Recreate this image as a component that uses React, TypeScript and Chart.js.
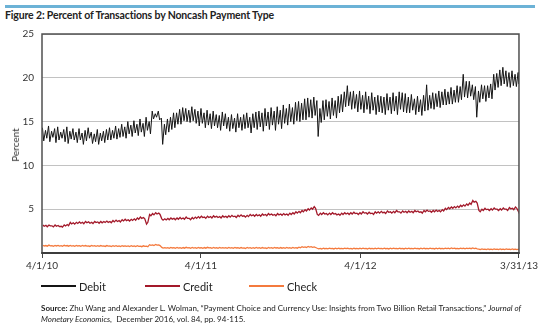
import React, { useEffect, useRef } from "react";
import { Chart, registerables } from "chart.js";

Chart.register(...registerables);

// x-axis tick dates (days since 4/1/10) and labels
const xTickDays = [0, 365, 731, 1095];
const xTickLabels = ["4/1/10", "4/1/11", "4/1/12", "3/31/13"];

// Debit: weekly highs and weekly lows (percent), week 0 = week of 4/1/10
const debitWeeklyHigh = [
  14.3, 14.0, 14.5, 13.9, 14.2, 14.4, 13.8, 14.1, 14.4, 13.9,
  14.2, 13.8, 14.2, 13.7, 14.0, 14.3, 13.8, 13.6, 14.1, 13.7,
  13.9, 14.1, 14.3, 14.0, 14.5, 14.2, 14.7, 14.4, 15.0, 14.6,
  15.1, 14.7, 15.3, 14.8, 15.5, 15.0, 16.2, 15.9, 16.2, 15.4,
  14.7, 15.3, 15.5, 16.0, 16.0, 16.4, 16.6, 16.5, 16.3, 16.7,
  16.4, 16.2, 16.5, 16.0, 16.3, 15.9, 16.2, 15.8, 15.7, 16.1,
  15.9, 15.5, 15.8, 15.4, 15.9, 15.5, 15.8, 16.0, 15.5, 15.9,
  16.1, 16.2, 16.0, 16.5, 16.1, 16.6, 16.2, 16.7, 16.3, 16.9,
  16.5, 17.0, 16.6, 17.2, 17.3, 17.1, 17.6, 17.7, 17.5, 17.8,
  17.4, 16.5, 17.4, 17.5, 17.3, 17.7, 17.4, 17.9, 18.1, 18.4,
  19.1, 18.4, 18.5, 18.1, 18.5, 18.0, 18.4, 17.9, 18.3, 17.8,
  18.0, 17.9, 17.8, 18.2, 17.8, 18.3, 17.9, 18.4, 18.3, 18.2,
  17.8, 18.1, 17.6, 17.9, 17.5, 18.0, 19.2, 18.0, 18.3, 18.2,
  18.5, 18.4, 18.7, 18.4, 18.9, 18.6, 19.1, 19.0, 20.4, 19.6,
  19.6, 19.2, 19.0, 18.5, 19.2, 19.1, 19.1, 19.3, 20.4, 20.5,
  20.9, 21.2, 20.8, 20.6, 20.8, 20.4, 20.6,
];
const debitWeeklyLow = [
  12.8, 13.1, 12.7, 13.2, 12.6, 12.9, 13.1, 12.7, 12.5, 13.0,
  12.9, 12.6, 12.9, 12.4, 12.8, 13.1, 12.5, 12.7, 12.4, 12.8,
  12.6, 12.9, 12.9, 13.1, 13.0, 13.2, 13.3, 13.1, 13.6, 13.3,
  13.7, 13.4, 13.8, 13.3, 14.0, 13.6, 15.3, 15.5, 15.2, 12.4,
  13.5, 13.8, 14.1, 14.3, 14.7, 14.7, 15.1, 15.0, 14.9, 15.1,
  14.8, 14.5, 14.8, 14.3, 14.6, 14.2, 14.5, 14.3, 14.0, 14.5,
  14.2, 13.9, 14.2, 13.8, 14.3, 14.0, 14.2, 14.3, 13.7, 14.3,
  14.1, 14.4, 13.9, 14.5, 14.1, 14.6, 14.0, 14.7, 14.2, 14.8,
  14.6, 15.0, 14.7, 15.1, 15.0, 15.2, 15.2, 15.5, 15.4, 15.7,
  13.3, 14.9, 15.2, 15.6, 15.3, 15.7, 15.4, 16.0, 16.1, 16.7,
  16.8, 16.4, 16.5, 16.1, 16.4, 16.0, 16.4, 15.9, 16.3, 15.8,
  16.1, 16.0, 15.8, 16.3, 15.9, 16.2, 15.8, 16.4, 16.1, 16.0,
  16.0, 16.3, 15.8, 16.1, 15.7, 16.2, 16.3, 16.5, 16.4, 16.7,
  16.6, 16.9, 16.9, 17.0, 17.0, 17.2, 17.2, 17.5, 17.8, 17.7,
  17.9, 17.5, 15.5, 17.2, 17.6, 17.3, 17.7, 17.6, 18.6, 18.9,
  19.1, 19.3, 19.0, 18.9, 19.1, 19.0, 19.3,
];

// Credit: weekly values and weekly dips (percent)
const creditWeekly = [
  3.2, 3.15, 3.2, 3.1, 3.2, 3.15, 3.05, 3.2, 3.25, 3.5,
  3.45, 3.5, 3.55, 3.5, 3.6, 3.55, 3.5, 3.6, 3.55, 3.6,
  3.6, 3.65, 3.6, 3.7, 3.75, 3.7, 3.8, 3.85, 3.8, 3.85,
  3.9, 4.0, 4.1, 4.05, 3.3, 4.4, 4.5, 4.6, 4.55, 3.9,
  3.9, 3.95, 4.0, 3.95, 4.0, 4.05, 4.0, 4.1, 3.95, 4.05,
  4.1, 4.15, 4.2, 4.1, 4.2, 4.15, 4.25, 4.2, 4.15, 4.25,
  4.2, 4.25, 4.3, 4.2, 4.3, 4.35, 4.25, 4.3, 4.4, 4.35,
  4.4, 4.35, 4.45, 4.4, 4.5, 4.45, 4.4, 4.5, 4.45, 4.5,
  4.45, 4.55, 4.6, 4.7, 4.75, 4.85, 4.95, 5.05, 5.15, 5.3,
  4.4, 4.55, 4.6, 4.5, 4.55, 4.6, 4.5, 4.45, 4.55, 4.6,
  4.55, 4.6, 4.65, 4.55, 4.6, 4.7, 4.6, 4.65, 4.55, 4.7,
  4.7, 4.75, 4.65, 4.8, 4.7, 4.75, 4.85, 4.7, 4.8, 4.75,
  4.8, 4.75, 4.85, 4.8, 4.7, 4.85, 4.9, 4.8, 4.85, 4.9,
  4.85, 4.95, 5.1, 5.2, 5.25, 5.3, 5.35, 5.45, 5.5, 5.6,
  5.7, 6.0, 5.9, 4.85, 5.0, 5.1, 5.0, 5.05, 5.15, 5.0,
  5.05, 5.15, 5.0, 5.2, 5.1, 5.25, 4.7,
];
const creditWeeklyDip = [
  3.05, 3.0, 3.1, 2.98, 3.05, 3.02, 2.95, 3.08, 3.12, 3.32,
  3.3, 3.38, 3.4, 3.35, 3.45, 3.4, 3.36, 3.47, 3.4, 3.45,
  3.48, 3.5, 3.45, 3.55, 3.6, 3.55, 3.66, 3.7, 3.65, 3.72,
  3.75, 3.85, 3.95, 3.9, 3.5, 4.25, 4.35, 4.45, 4.4, 3.75,
  3.78, 3.8, 3.86, 3.8, 3.85, 3.9, 3.85, 3.95, 3.8, 3.9,
  3.95, 4.0, 4.05, 3.95, 4.05, 4.0, 4.1, 4.05, 4.0, 4.1,
  4.05, 4.1, 4.15, 4.05, 4.15, 4.2, 4.1, 4.15, 4.25, 4.2,
  4.25, 4.2, 4.3, 4.25, 4.35, 4.3, 4.25, 4.35, 4.3, 4.35,
  4.3, 4.4, 4.45, 4.55, 4.6, 4.7, 4.8, 4.9, 5.0, 5.1,
  4.3, 4.4, 4.45, 4.35, 4.4, 4.45, 4.35, 4.3, 4.4, 4.45,
  4.4, 4.45, 4.5, 4.4, 4.45, 4.55, 4.45, 4.5, 4.4, 4.55,
  4.55, 4.6, 4.5, 4.65, 4.55, 4.6, 4.7, 4.55, 4.65, 4.6,
  4.65, 4.6, 4.7, 4.65, 4.55, 4.7, 4.75, 4.65, 4.7, 4.75,
  4.7, 4.8, 4.95, 5.05, 5.1, 5.15, 5.2, 5.3, 5.35, 5.45,
  5.55, 5.8, 5.7, 4.7, 4.85, 4.95, 4.85, 4.9, 5.0, 4.85,
  4.9, 5.0, 4.85, 5.05, 4.95, 5.1, 4.6,
];

// Check: weekly values and weekly dips (percent)
const checkWeekly = [
  0.88, 0.85, 0.9, 0.84, 0.87, 0.86, 0.83, 0.88, 0.85, 0.86,
  0.84, 0.87, 0.83, 0.86, 0.85, 0.82, 0.86, 0.84, 0.83, 0.85,
  0.82, 0.85, 0.81, 0.84, 0.83, 0.8, 0.84, 0.82, 0.81, 0.83,
  0.8, 0.83, 0.79, 0.82, 0.78, 0.95, 0.93, 0.97, 0.92, 0.64,
  0.62, 0.6, 0.64, 0.61, 0.63, 0.6, 0.62, 0.65, 0.6, 0.63,
  0.61, 0.64, 0.6, 0.62, 0.65, 0.61, 0.63, 0.6, 0.64, 0.62,
  0.6, 0.63, 0.61, 0.64, 0.6, 0.62, 0.59, 0.63, 0.61, 0.6,
  0.63, 0.6, 0.62, 0.59, 0.63, 0.61, 0.64, 0.6, 0.62, 0.61,
  0.63, 0.6, 0.64, 0.62, 0.66, 0.72, 0.7, 0.74, 0.72, 0.7,
  0.54, 0.52, 0.55, 0.53, 0.56, 0.52, 0.54, 0.55, 0.53, 0.56,
  0.54, 0.52, 0.55, 0.53, 0.54, 0.56, 0.52, 0.55, 0.53, 0.54,
  0.56, 0.53, 0.55, 0.52, 0.54, 0.56, 0.53, 0.55, 0.52, 0.54,
  0.55, 0.53, 0.56, 0.52, 0.54, 0.55, 0.53, 0.56, 0.52, 0.54,
  0.55, 0.53, 0.56, 0.54, 0.57, 0.55, 0.53, 0.56, 0.54, 0.56,
  0.55, 0.57, 0.54, 0.45, 0.47, 0.44, 0.46, 0.45, 0.47, 0.44,
  0.46, 0.45, 0.47, 0.44, 0.46, 0.45, 0.43,
];
const checkWeeklyDip = [
  0.8, 0.78, 0.82, 0.77, 0.8, 0.79, 0.76, 0.81, 0.78, 0.79,
  0.77, 0.8, 0.76, 0.79, 0.78, 0.75, 0.79, 0.77, 0.76, 0.78,
  0.75, 0.78, 0.74, 0.77, 0.76, 0.73, 0.77, 0.75, 0.74, 0.76,
  0.73, 0.76, 0.72, 0.75, 0.71, 0.88, 0.86, 0.9, 0.85, 0.57,
  0.55, 0.53, 0.57, 0.54, 0.56, 0.53, 0.55, 0.58, 0.53, 0.56,
  0.54, 0.57, 0.53, 0.55, 0.58, 0.54, 0.56, 0.53, 0.57, 0.55,
  0.53, 0.56, 0.54, 0.57, 0.53, 0.55, 0.52, 0.56, 0.54, 0.53,
  0.56, 0.53, 0.55, 0.52, 0.56, 0.54, 0.57, 0.53, 0.55, 0.54,
  0.56, 0.53, 0.57, 0.55, 0.59, 0.65, 0.63, 0.67, 0.65, 0.63,
  0.48, 0.46, 0.49, 0.47, 0.5, 0.46, 0.48, 0.49, 0.47, 0.5,
  0.48, 0.46, 0.49, 0.47, 0.48, 0.5, 0.46, 0.49, 0.47, 0.48,
  0.5, 0.47, 0.49, 0.46, 0.48, 0.5, 0.47, 0.49, 0.46, 0.48,
  0.49, 0.47, 0.5, 0.46, 0.48, 0.49, 0.47, 0.5, 0.46, 0.48,
  0.49, 0.47, 0.5, 0.48, 0.51, 0.49, 0.47, 0.5, 0.48, 0.5,
  0.49, 0.51, 0.48, 0.39, 0.41, 0.38, 0.4, 0.39, 0.41, 0.38,
  0.4, 0.39, 0.41, 0.38, 0.4, 0.39, 0.37,
];

const seriesNames = ["Debit", "Credit", "Check"];
const seriesColors = ["#151515", "#a3192a", "#f47a3e"];

const FONT = "Lato, 'Open Sans', sans-serif";
const LAST_DAY = 1095;

function weeklyPairs(a: number[], b: number[], da: number, db: number) {
  const pts: { x: number; y: number }[] = [];
  a.forEach((v, w) => {
    pts.push({ x: Math.min(w * 7 + da, LAST_DAY), y: v });
    pts.push({ x: Math.min(w * 7 + db, LAST_DAY), y: b[w] });
  });
  return pts;
}

export default function App() {
  const ref = useRef<HTMLCanvasElement | null>(null);

  useEffect(() => {
    if (!ref.current) return;
    const debitPts = weeklyPairs(debitWeeklyHigh, debitWeeklyLow, 1, 4);
    const creditPts = weeklyPairs(creditWeekly, creditWeeklyDip, 2, 5);
    const checkPts = weeklyPairs(checkWeekly, checkWeeklyDip, 2, 5);

    const boxPlugin = {
      id: "box",
      afterDraw(chart: any) {
        const { ctx, chartArea: a } = chart;
        ctx.save();
        ctx.strokeStyle = "#505050";
        ctx.lineWidth = 1.5;
        ctx.strokeRect(a.left, a.top, a.right - a.left, a.bottom - a.top);
        ctx.lineWidth = 2;
        ctx.strokeStyle = "#3c3c3c";
        ctx.beginPath();
        ctx.moveTo(a.left - 0.75, a.bottom);
        ctx.lineTo(a.right + 0.75, a.bottom);
        ctx.stroke();
        ctx.restore();
      },
    };

    const chart = new Chart(ref.current, {
      type: "line",
      data: {
        datasets: [
          { label: seriesNames[0], data: debitPts, borderColor: seriesColors[0], borderWidth: 1 },
          { label: seriesNames[1], data: creditPts, borderColor: seriesColors[1], borderWidth: 1.3 },
          { label: seriesNames[2], data: checkPts, borderColor: seriesColors[2], borderWidth: 1.3 },
        ],
      },
      options: {
        animation: false,
        responsive: false,
        devicePixelRatio: 1,
        layout: { padding: { left: 0, right: 17, top: 34, bottom: 0 } },
        elements: { point: { radius: 0 }, line: { tension: 0 } },
        plugins: { legend: { display: false }, tooltip: { enabled: false } },
        scales: {
          x: {
            type: "linear",
            min: 0,
            max: LAST_DAY,
            afterBuildTicks(scale: any) {
              scale.ticks = xTickDays.map((v) => ({ value: v }));
            },
            afterFit(scale: any) {
              scale.height = 75;
            },
            ticks: {
              autoSkip: false,
              maxRotation: 0,
              padding: 2,
              color: "#333",
              font: { family: FONT, size: 10 },
              callback: (v: any) => {
                const i = xTickDays.indexOf(Number(v));
                return i >= 0 ? xTickLabels[i] : "";
              },
            },
            grid: { drawOnChartArea: false, drawTicks: true, tickLength: 5, color: "#444", lineWidth: 1 },
            border: { display: false },
          },
          y: {
            min: 0,
            max: 25,
            afterFit(scale: any) {
              scale.width = 42;
            },
            ticks: {
              stepSize: 5,
              padding: 8,
              color: "#333",
              font: { family: FONT, size: 10 },
              callback: (v: any) => (Number(v) === 0 ? "" : String(v)),
            },
            grid: { color: "#c2c2c2", lineWidth: 1, drawTicks: false },
            border: { display: false },
          },
        },
      },
      plugins: [boxPlugin],
    } as any);
    return () => chart.destroy();
  }, []);

  const legendX = [41, 145, 249];

  return (
    <div
      style={{
        position: "absolute",
        left: 0,
        top: 0,
        width: 540,
        height: 328,
        background: "#fff",
        fontFamily: FONT,
        overflow: "hidden",
      }}
    >
      <div style={{ position: "absolute", left: 5, top: 5, width: 530, height: 3, background: "#6cb2d6" }} />
      <div
        style={{
          position: "absolute",
          left: 5,
          top: 9,
          fontSize: 10.5,
          letterSpacing: "-0.15px",
          fontWeight: 700,
          color: "#222",
          whiteSpace: "nowrap",
          lineHeight: "12px",
        }}
      >
        Figure 2: Percent of Transactions by Noncash Payment Type
      </div>
      <canvas ref={ref} width={540} height={328} style={{ position: "absolute", left: 0, top: 0, width: 540, height: 328 }} />
      <div
        style={{
          position: "absolute",
          left: 15,
          top: 145,
          transform: "translate(-50%, -50%) rotate(-90deg)",
          fontSize: 10,
          color: "#333",
          whiteSpace: "nowrap",
        }}
      >
        Percent
      </div>
      {seriesNames.map((n, i) => (
        <div key={n} style={{ position: "absolute", left: legendX[i], top: 279, height: 14, display: "flex", alignItems: "center" }}>
          <div style={{ width: 35, height: 2.5, background: seriesColors[i] }} />
          <span style={{ marginLeft: 3, fontSize: 11, color: "#222" }}>{n}</span>
        </div>
      ))}
      <div
        style={{
          position: "absolute",
          left: 41,
          top: 303,
          fontSize: 8,
          lineHeight: "10.5px",
          color: "#222",
          whiteSpace: "nowrap",
        }}
      >
        <b>Source:</b> Zhu Wang and Alexander L. Wolman, “Payment Choice and Currency Use: Insights from Two Billion Retail Transactions,” <i>Journal of</i>
        <br />
        <i>Monetary Economics,</i>&nbsp; December 2016, vol. 84, pp. 94-115.
      </div>
    </div>
  );
}
